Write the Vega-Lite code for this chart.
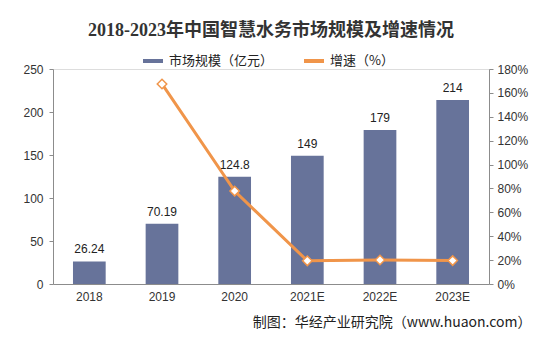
{
  "$schema": "https://vega.github.io/schema/vega-lite/v6.json",
  "width": 436,
  "height": 215,
  "autosize": {"type": "none"},
  "padding": {"left": 53, "top": 69, "right": 47, "bottom": 53},
  "background": "white",
  "title": {
    "text": "2018-2023年中国智慧水务市场规模及增速情况",
    "font": "Liberation Serif, Noto Sans CJK SC",
    "fontSize": 18,
    "fontWeight": "bold",
    "color": "#333333",
    "anchor": "middle",
    "offset": 9
  },
  "data": {
    "values": [
      {"year": "2018", "scale": 26.24, "label": "26.24", "growth": null},
      {"year": "2019", "scale": 70.19, "label": "70.19", "growth": 1.675},
      {"year": "2020", "scale": 124.8, "label": "124.8", "growth": 0.778},
      {"year": "2021E", "scale": 149, "label": "149", "growth": 0.194},
      {"year": "2022E", "scale": 179, "label": "179", "growth": 0.201},
      {"year": "2023E", "scale": 214, "label": "214", "growth": 0.196}
    ]
  },
  "encoding": {
    "x": {
      "field": "year",
      "type": "nominal",
      "sort": null,
      "scale": {"paddingInner": 0.55, "paddingOuter": 0.275},
      "axis": {
        "title": "制图：华经产业研究院（www.huaon.com）",
        "titleFont": "Noto Sans CJK SC",
        "titleFontSize": 14,
        "titleFontWeight": "normal",
        "titleColor": "#222222",
        "titleAlign": "right",
        "titleAnchor": "end",
        "titleX": 478,
        "titleY": 38,
        "titleBaseline": "middle",
        "labelAngle": 0,
        "labelFont": "Liberation Sans",
        "labelFontSize": 12,
        "labelColor": "#333333",
        "labelPadding": 7,
        "ticks": false,
        "domainColor": "#8c8c8c",
        "grid": false
      }
    }
  },
  "layer": [
    {
      "mark": {"type": "bar"},
      "encoding": {
        "y": {
          "field": "scale",
          "type": "quantitative",
          "scale": {"domain": [0, 250]},
          "axis": {
            "title": null,
            "values": [0, 50, 100, 150, 200, 250],
            "labelFont": "Liberation Sans",
            "labelFontSize": 12,
            "labelColor": "#333333",
            "domainColor": "#8c8c8c",
            "tickColor": "#8c8c8c",
            "tickSize": 4,
            "labelPadding": 6,
            "grid": false
          }
        },
        "color": {
          "datum": "市场规模（亿元）",
          "type": "nominal",
          "scale": {
            "domain": ["市场规模（亿元）", "增速（%）"],
            "range": ["#67739A", "#F0954A"]
          },
          "legend": {
            "title": null,
            "orient": "none",
            "legendX": 88,
            "legendY": -20,
            "direction": "horizontal",
            "labelFont": "Noto Sans CJK SC",
            "labelFontSize": 13,
            "labelColor": "#222222",
            "symbolType": "stroke",
            "symbolStrokeWidth": 4,
            "symbolSize": 400,
            "columnPadding": 22
          }
        }
      }
    },
    {
      "mark": {"type": "text", "dy": -12, "font": "Liberation Sans", "fontSize": 12, "color": "#222222"},
      "encoding": {
        "y": {"field": "scale", "type": "quantitative", "scale": {"domain": [0, 250]}, "axis": null},
        "text": {"field": "label", "type": "nominal"}
      }
    },
    {
      "mark": {
        "type": "line",
        "strokeWidth": 3,
        "point": {"shape": "diamond", "filled": true, "fill": "white", "stroke": "#F0954A", "strokeWidth": 1.5, "size": 90}
      },
      "encoding": {
        "y": {
          "field": "growth",
          "type": "quantitative",
          "scale": {"domain": [0, 1.8]},
          "axis": {
            "orient": "right",
            "title": null,
            "format": ".0%",
            "values": [0, 0.2, 0.4, 0.6, 0.8, 1.0, 1.2, 1.4, 1.6, 1.8],
            "labelFont": "Liberation Sans",
            "labelFontSize": 12,
            "labelColor": "#333333",
            "domainColor": "#8c8c8c",
            "tickColor": "#8c8c8c",
            "tickSize": 4,
            "labelPadding": 4,
            "grid": false
          }
        },
        "color": {"datum": "增速（%）", "type": "nominal"}
      }
    }
  ],
  "resolve": {"scale": {"y": "independent"}}
}
